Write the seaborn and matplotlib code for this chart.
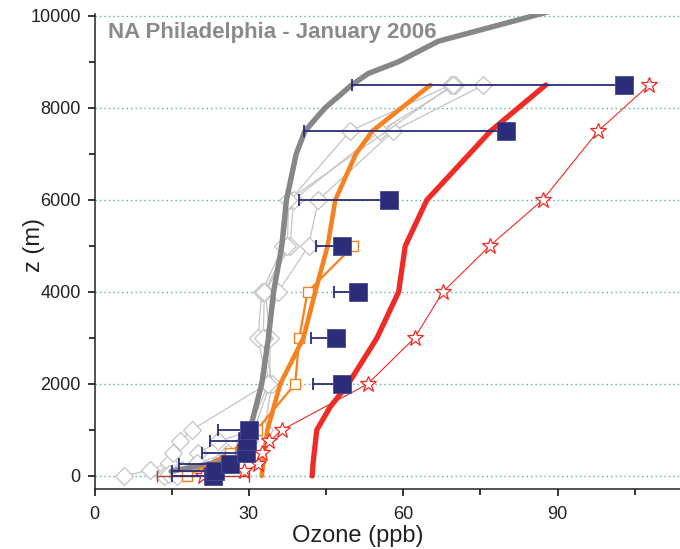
"""
Ozone vertical profiles - NA Philadelphia, January 2006
"""

import numpy as np
import matplotlib
matplotlib.use('Agg')
import matplotlib.pyplot as plt
from matplotlib.ticker import MultipleLocator
import seaborn as sns

# --- data ---
# thick model-type profiles
gray_z = [100, 280, 560, 1000, 2000, 3000, 4000, 5000, 6000, 7000, 7500, 8000, 8500, 8750, 9000, 9450, 10100]
gray_x = [14.9, 23.0, 27.6, 30.2, 32.5, 33.8, 34.8, 36.4, 37.3, 39.2, 40.9, 44.8, 50.0, 53.2, 59.0, 66.8, 88.5]

orange_z = [0, 1000, 2000, 3000, 4000, 5000, 6000, 7000, 7500, 8500]
orange_x = [32.5, 33.6, 36.1, 40.6, 42.9, 45.3, 46.8, 50.8, 54.0, 65.3]

red_z = [0, 300, 1000, 1500, 2000, 3000, 4000, 5000, 6000, 7500, 8500]
red_x = [42.3, 42.5, 43.2, 45.8, 49.3, 54.9, 59.1, 60.4, 64.6, 77.0, 87.7]

# thin profiles with open markers
diam1_z = [0, 130, 280, 500, 750, 1000, 2000, 3000, 4000, 5000, 6000, 7500, 8500]
diam1_x = [5.8, 10.7, 14.4, 15.3, 16.6, 18.9, 33.5, 31.8, 32.5, 36.7, 38.0, 49.7, 69.2]
diam2_z = [0, 130, 500, 750, 1000, 2000, 3000, 4000, 5000, 6000, 7500, 8500]
diam2_x = [13.5, 17.0, 20.2, 24.0, 31.0, 34.1, 34.1, 33.2, 38.0, 38.7, 55.5, 70.1]
diam3_z = [50, 280, 500, 750, 1000, 2000, 3000, 4000, 5000, 6000, 7500, 8500]
diam3_x = [14.5, 20.0, 26.0, 30.0, 33.0, 34.5, 33.0, 35.7, 41.6, 43.5, 58.1, 75.6]
diam4_z = [0, 280, 750, 2000, 3000, 4000, 5000, 6000, 8500]
diam4_x = [16.0, 24.0, 29.0, 33.8, 32.8, 33.0, 37.5, 37.7, 69.6]

osq_z = [0, 500, 1000, 2000, 3000, 4000, 5000]
osq_x = [17.9, 26.3, 31.5, 39.0, 39.8, 41.4, 50.3]

star_z = [0, 100, 250, 500, 750, 1000, 2000, 3000, 4000, 5000, 6000, 7500, 8500]
star_x = [21.1, 29.1, 31.8, 32.5, 34.0, 36.4, 53.1, 62.2, 67.7, 76.8, 87.1, 97.9, 107.8]
star0_err = 8.9

# observations with one-sided (low) error bars
obs_z = [0, 100, 250, 500, 750, 1000, 2000, 3000, 4000, 5000, 6000, 7500, 8500]
obs_x = [23.0, 23.5, 26.3, 29.4, 29.6, 30.0, 48.1, 47.0, 51.2, 48.1, 57.3, 79.9, 102.9]
obs_err = [8.0, 8.5, 9.9, 8.5, 7.2, 6.0, 5.7, 4.9, 4.6, 5.0, 17.5, 39.1, 52.8]

yticks = [0, 2000, 4000, 6000, 8000, 10000]
xticks = [0, 30, 60, 90]

# --- style ---
sns.set_theme(style='ticks')
plt.rcParams['font.family'] = ['Liberation Sans', 'DejaVu Sans']

NAVY = '#2b2d7a'
GRAY = '#878787'
LGRAY = '#c4c4c4'
ORANGE = '#f5821f'
RED = '#ee2b24'
GRID = '#5aadad'

fig = plt.figure(figsize=(6.8, 5.49), dpi=100)
ax = fig.add_axes([0.139, 0.1093, 0.861, 0.8652])

# grey background profiles
for zz, xx in [(diam1_z, diam1_x), (diam2_z, diam2_x), (diam3_z, diam3_x), (diam4_z, diam4_x)]:
    sns.lineplot(x=xx, y=zz, sort=False, estimator=None, ax=ax, color=LGRAY, lw=0.9,
                 marker='D', markersize=9, markerfacecolor='white', markeredgecolor=LGRAY,
                 markeredgewidth=0.9, zorder=2)

sns.lineplot(x=gray_x, y=gray_z, sort=False, estimator=None, ax=ax, color=GRAY, lw=3.9, zorder=3)

sns.lineplot(x=osq_x, y=osq_z, sort=False, estimator=None, ax=ax, color=ORANGE, lw=1.6,
             marker='s', markersize=7.5, markerfacecolor='white', markeredgecolor=ORANGE,
             markeredgewidth=1.0, zorder=4)
sns.lineplot(x=orange_x, y=orange_z, sort=False, estimator=None, ax=ax, color=ORANGE, lw=3.3, zorder=4)
sns.lineplot(x=red_x, y=red_z, sort=False, estimator=None, ax=ax, color=RED, lw=3.8, zorder=4)

ax.errorbar([star_x[0]], [star_z[0]], xerr=[[star0_err]], fmt='none', ecolor='#b03a3a',
            elinewidth=1.0, capsize=4, capthick=1.0, zorder=5)
sns.lineplot(x=star_x, y=star_z, sort=False, estimator=None, ax=ax, color=RED, lw=0.8,
             marker='*', markersize=12, markerfacecolor='white', markeredgecolor=RED,
             markeredgewidth=0.9, zorder=5)

ax.errorbar(obs_x, obs_z, xerr=[obs_err, np.zeros(len(obs_err))], fmt='none', ecolor=NAVY,
            elinewidth=1.3, capsize=4, capthick=1.3, zorder=6)
sns.scatterplot(x=obs_x, y=obs_z, ax=ax, marker='s', s=150, color=NAVY, edgecolor='#4a4c90',
                linewidth=0.6, zorder=7)

# axes
ax.set_xlim(0, 113.8)
ax.set_ylim(-283, 10043)
ax.set_xticks(xticks)
ax.set_yticks(yticks)
ax.xaxis.set_minor_locator(MultipleLocator(15))
ax.yaxis.set_minor_locator(MultipleLocator(1000))
ax.tick_params(axis='both', which='both', direction='out', color='black', width=1.1,
               labelsize=13, labelcolor='#222222')
ax.tick_params(axis='both', which='major', length=5)
ax.tick_params(axis='both', which='minor', length=4.5)
ax.tick_params(axis='x', which='major', pad=7)
ax.tick_params(axis='y', which='major', pad=5)

for side in ['top', 'right']:
    ax.spines[side].set_visible(False)
for side in ['left', 'bottom']:
    ax.spines[side].set_color('#222222')
    ax.spines[side].set_linewidth(1.1)

for yv in yticks:
    ax.axhline(yv, color=GRID, lw=1.0, ls=(0, (1, 2.2)), zorder=1)

ax.set_xlabel('Ozone (ppb)', fontsize=17, color='#222222')
ax.set_ylabel('z (m)', fontsize=17, color='#222222')
ax.xaxis.set_label_coords(0.45, -0.075)
ax.yaxis.set_label_coords(-0.085, 0.514)

ax.text(0.023, 0.949, 'NA Philadelphia - January 2006', transform=ax.transAxes,
        fontsize=16, fontweight='bold', color='#8a8a8a', ha='left', va='baseline', zorder=8)

fig.savefig('out.png', dpi=100)
